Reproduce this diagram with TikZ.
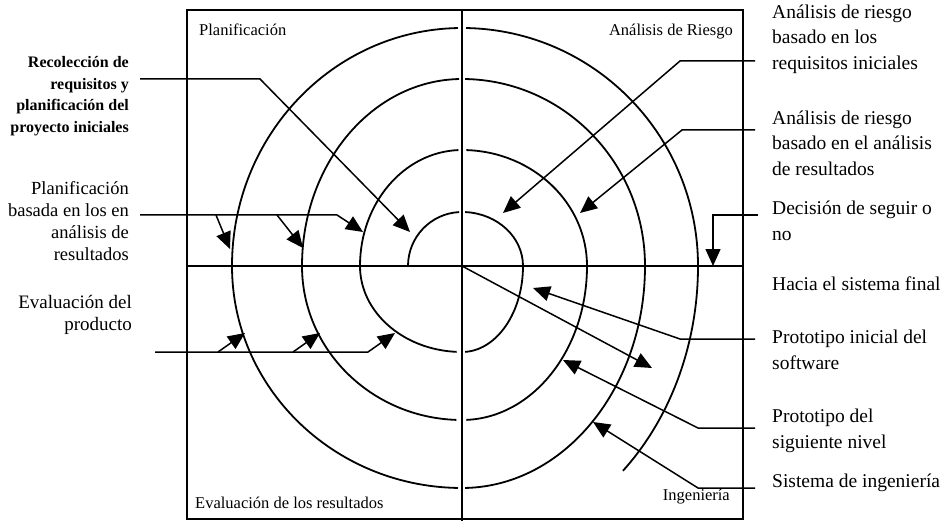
\documentclass[tikz,border=0pt]{standalone}
\usepackage{fontspec}
\setmainfont{Liberation Serif}
\usetikzlibrary{arrows.meta}

\begin{document}
\begin{tikzpicture}[x=1pt, y=-1pt,
    lleft/.style={inner sep=0pt, anchor=east, align=right,
      font=\fontsize{18.5}{22}\selectfont},
    lright/.style={inner sep=0pt, anchor=west, align=left,
      font=\fontsize{19.5}{25.5}\selectfont},
    quad/.style={inner sep=0pt, font=\fontsize{16.5}{19}\selectfont},
    frame/.style={line width=1.5pt},
    spiral/.style={line width=1.8pt},
    arr/.style={-{Triangle[length=17pt, width=15pt]}, line width=1.5pt}]

  \useasboundingbox (0,0) rectangle (944,521);

  % marco y cuadrantes
  \coordinate (O) at (462,266);
  \draw[frame] (187,10) rectangle (743,519);
  \draw[frame] (462,10) -- (462,521);
  \draw[frame] (187,266) -- (743,266);

  \node[quad, anchor=west] (qplan) at (199,30) {Planificación};
  \node[quad, anchor=east] (qries) at (733,32) {Análisis de Riesgo};
  \node[quad, anchor=west] (qeval) at (195,503) {Evaluación de los resultados};
  \node[quad, anchor=east] (qing) at (730,497) {Ingeniería};

  % espiral, un cuarto de vuelta cada vez
  \foreach \a/\b/\rx/\ry in {180/267/54/54, 273/360/61/54, 0/87/61/86,
      93/180/102/86, 180/268/102/116, 272/360/125/116, 0/88/125/154,
      92/180/160/154, 180/269/160/187, 271/360/183/187, 0/89/183/222,
      91/180/230/222, 180/269/230/238, 271/360/236/238, 0/47/236/280}
    \draw[spiral] (O) ++(\a:{\rx} and {\ry})
      arc[start angle=\a, end angle=\b, x radius=\rx, y radius=\ry];

  % textos de la izquierda
  \node[lleft, font=\bfseries\fontsize{16}{21.5}\selectfont] (recol) at (129,96)
    {Recolección de\\requisitos y\\planificación del\\proyecto iniciales};
  \node[lleft] (planbas) at (129,221)
    {Planificación\\basada en los en\\análisis de\\resultados};
  \node[lleft, font=\fontsize{19}{22}\selectfont] (evalprod) at (132,315)
    {Evaluación del\\producto};

  % textos de la derecha
  \node[lright] (riesgo1) at (772,39)
    {Análisis de riesgo\\basado en los\\requisitos iniciales};
  \node[lright] (riesgo2) at (772,143)
    {Análisis de riesgo\\basado en el análisis\\de resultados};
  \node[lright] (decision) at (772,221) {Decisión de seguir o\\no};
  \node[lright] (hacia) at (772,284) {Hacia el sistema final};
  \node[lright] (proto1) at (772,350) {Prototipo inicial del\\software};
  \node[lright] (proto2) at (772,431) {Prototipo del\\siguiente nivel};
  \node[lright] (sistema) at (772,483) {Sistema de ingeniería};

  % puntos de las flechas
  \path (140,79) coordinate (recA) (260,79) coordinate (recB)
    (410,232) coordinate (recT);
  \path (140,215) coordinate (plaA) (337,215) coordinate (plaB)
    (363,232) coordinate (plaT) (216,215) coordinate (plaC)
    (230,249) coordinate (plaU) (277,215) coordinate (plaD)
    (303,248) coordinate (plaV);
  \path (155,352) coordinate (evaA) (368,352) coordinate (evaB)
    (395,333) coordinate (evaT) (218,352) coordinate (evaC)
    (245,333) coordinate (evaU) (293,352) coordinate (evaD)
    (320,333) coordinate (evaV);
  \path (755,61) coordinate (ri1A) (680,61) coordinate (ri1B)
    (503,213) coordinate (ri1T);
  \path (755,130) coordinate (ri2A) (682,130) coordinate (ri2B)
    (580,213) coordinate (ri2T);
  \path (758,215) coordinate (decA) (713,215) coordinate (decB)
    (713,266) coordinate (decT);
  \path (652,368) coordinate (hacT);
  \path (755,339) coordinate (pr1A) (680,339) coordinate (pr1B)
    (533,288) coordinate (pr1T);
  \path (755,428) coordinate (pr2A) (698,428) coordinate (pr2B)
    (563,360) coordinate (pr2T);
  \path (755,488) coordinate (sisA) (698,488) coordinate (sisB)
    (593,422) coordinate (sisT);

  \draw[arr] (recA) -- (recB) -- (recT);
  \draw[arr] (plaA) -- (plaB) -- (plaT);
  \draw[arr] (plaC) -- (plaU);
  \draw[arr] (plaD) -- (plaV);
  \draw[arr] (evaA) -- (evaB) -- (evaT);
  \draw[arr] (evaC) -- (evaU);
  \draw[arr] (evaD) -- (evaV);
  \draw[arr] (ri1A) -- (ri1B) -- (ri1T);
  \draw[arr] (ri2A) -- (ri2B) -- (ri2T);
  \draw[arr] (decA) -- (decB) -- (decT);
  \draw[arr] (O) -- (hacT);
  \draw[arr] (pr1A) -- (pr1B) -- (pr1T);
  \draw[arr] (pr2A) -- (pr2B) -- (pr2T);
  \draw[arr] (sisA) -- (sisB) -- (sisT);
\end{tikzpicture}
\end{document}
